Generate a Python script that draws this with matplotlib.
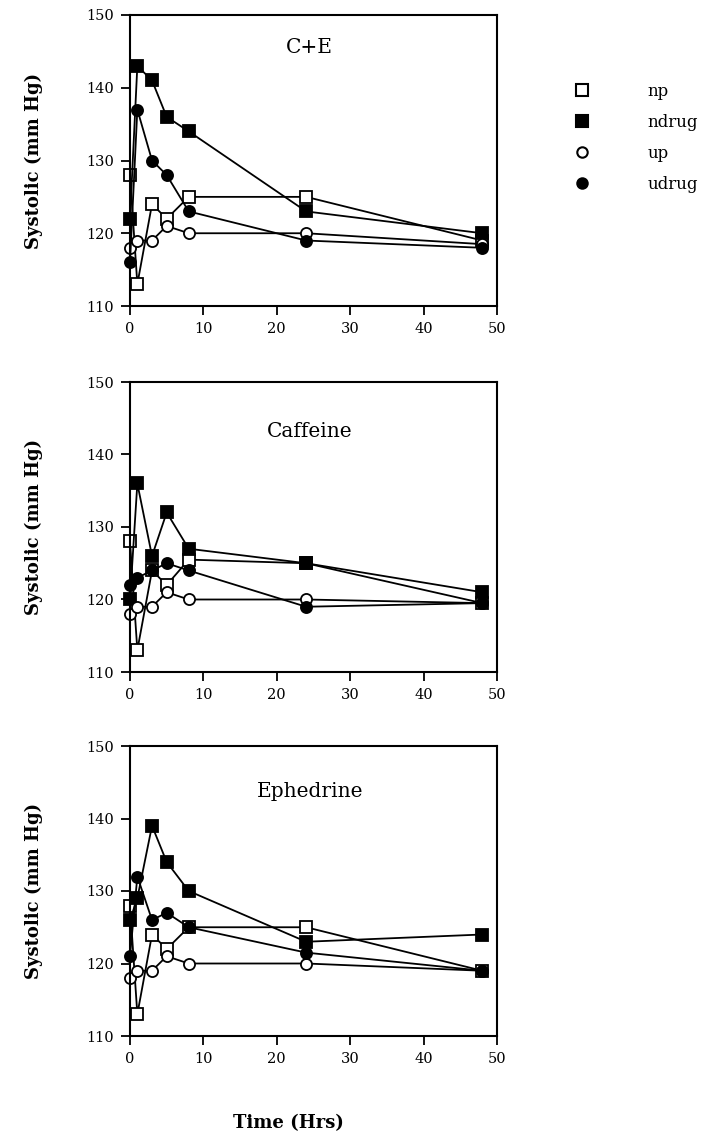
import numpy as np
import matplotlib.pyplot as plt
from matplotlib.lines import Line2D

plt.rcParams['font.family'] = ['DejaVu Serif']

hours = [0, 1, 3, 5, 8, 24, 48]
series = ['np', 'ndrug', 'up', 'udrug']
panels = ['C+E', 'Caffeine', 'Ephedrine']

# systolic (mm Hg) per panel, per series
ce_np = [128, 113, 124, 122, 125, 125, 119]
ce_ndrug = [122, 143, 141, 136, 134, 123, 120]
ce_up = [118, 119, 119, 121, 120, 120, 118.5]
ce_udrug = [116, 137, 130, 128, 123, 119, 118]

caf_np = [128, 113, 124, 122, 125.5, 125, 119.5]
caf_ndrug = [120, 136, 126, 132, 127, 125, 121]
caf_up = [118, 119, 119, 121, 120, 120, 119.5]
caf_udrug = [122, 123, 124, 125, 124, 119, 119.5]

eph_np = [128, 113, 124, 122, 125, 125, 119]
eph_ndrug = [126, 129, 139, 134, 130, 123, 124]
eph_up = [118, 119, 119, 121, 120, 120, 119]
eph_udrug = [121, 132, 126, 127, 125, 121.5, 119]

data = [
    [ce_np, ce_ndrug, ce_up, ce_udrug],
    [caf_np, caf_ndrug, caf_up, caf_udrug],
    [eph_np, eph_ndrug, eph_up, eph_udrug],
]

styles = {
    'np': dict(marker='s', mfc='white', ms=8.5),
    'ndrug': dict(marker='s', mfc='black', ms=8.5),
    'up': dict(marker='o', mfc='white', ms=8),
    'udrug': dict(marker='o', mfc='black', ms=8),
}

fig = plt.figure(figsize=(7.06, 11.37), dpi=100)

W, H = 706, 1137
left, right = 130, 497
tops = [15, 382, 746]
bottoms = [306, 672, 1036]
title_pos = [(24.5, 145.6), (24.5, 143.2), (24.5, 143.7)]

for i, name in enumerate(panels):
    ax = fig.add_axes([left / W, 1 - bottoms[i] / H, (right - left) / W,
                       (bottoms[i] - tops[i]) / H])
    for s, vals in zip(series, data[i]):
        st = styles[s]
        ax.plot(hours, vals, color='black', lw=1.3, marker=st['marker'],
                ms=st['ms'], mfc=st['mfc'], mec='black', mew=1.3, label=s,
                clip_on=False)
    ax.set_xlim(0, 50)
    ax.set_ylim(110, 150)
    ax.set_xticks([0, 10, 20, 30, 40, 50])
    ax.set_yticks([110, 120, 130, 140, 150])
    ax.tick_params(direction='out', length=6.5, width=1.3, labelsize=10.5, pad=5)
    for sp in ax.spines.values():
        sp.set_linewidth(1.5)
    ax.set_ylabel('Systolic (mm Hg)', fontsize=13, fontweight='bold', labelpad=31)
    ax.text(title_pos[i][0], title_pos[i][1], name, fontsize=14.5,
            ha='center', va='center')

fig.text(288 / W, 1 - 1123 / H, 'Time (Hrs)', fontsize=13, fontweight='bold',
         ha='center', va='center')

handles = [Line2D([], [], ls='none', color='black', marker=styles[s]['marker'],
                  ms=styles[s]['ms'] - 0.5, mfc=styles[s]['mfc'], mec='black',
                  mew=1.5) for s in series]
fig.legend(handles, series, loc='upper left', bbox_to_anchor=(574 / W, 1 - 83 / H),
           frameon=False, fontsize=12, handlelength=1.0, handletextpad=3.4,
           labelspacing=0.84, borderpad=0, borderaxespad=0)

fig.savefig('out.png', dpi=100)
